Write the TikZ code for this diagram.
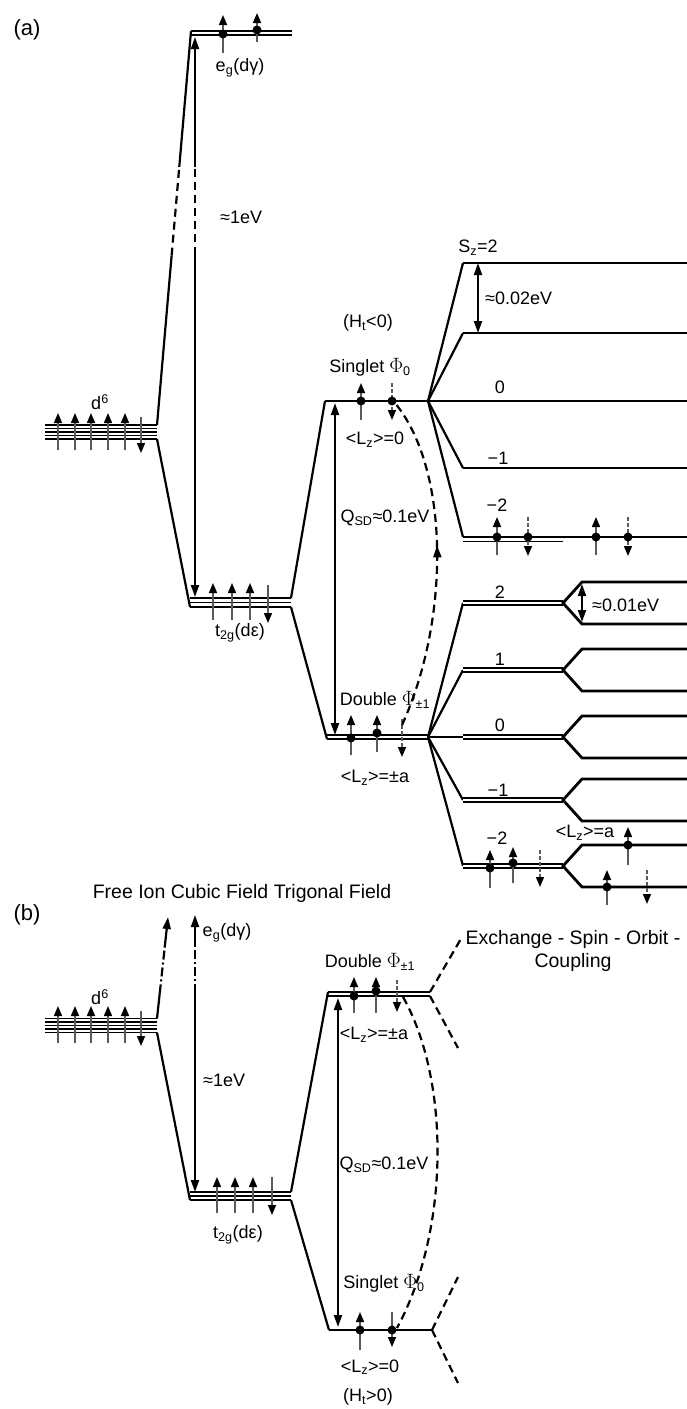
\documentclass[tikz,border=0pt]{standalone}
\usepackage{fontspec}
\setmainfont{Liberation Sans}
\usepackage{tikz}
\usetikzlibrary{arrows.meta,calc,decorations.markings}
\definecolor{gris}{HTML}{5A5A5A}
\newcommand{\Fi}{{\fontsize{20}{20}\selectfont$\Phi$}}

\begin{document}
\begin{tikzpicture}[
  x=1pt, y=-1pt,
  font=\fontsize{18}{21}\selectfont,
  >={Triangle[width=8pt,length=12pt]},
  texto/.style={inner sep=0pt},
  titulo/.style={inner sep=0pt, font=\fontsize{19.5}{23}\selectfont},
  panel/.style={inner sep=0pt, font=\fontsize{22}{24}\selectfont},
  fina/.style={line width=1.6pt},
  nivel/.style={line width=2.8pt},
  doble/.style={double, double distance=2.2pt, line width=1.6pt},
  enlace/.style={line width=2.2pt},
  salto/.style={line width=2pt},
  trazos/.style={dash pattern=on 8pt off 5pt},
  rayapunto/.style={dash pattern=on 9pt off 3pt on 2pt off 3pt},
  espin/.style={gris, line width=1.6pt, -{Triangle[width=8pt,length=10pt,color=black]}},
  espinr/.style={espin, dash pattern=on 4pt off 2pt},
  curva/.style={line width=2.2pt, trazos},
  flechacurva/.style={postaction={decorate}, decoration={markings,
    mark=at position 0.55 with {\arrow{Triangle[width=8pt,length=12pt]}}}}
]
\useasboundingbox (0,0) rectangle (687,1409);

% (a)
\node[panel] (pa) at (27,30) {(a)};

\foreach \k in {0,...,4} \draw[fina] (45,{425+3.5*\k}) -- (157,{425+3.5*\k});
\coordinate (d6a-s) at (157,425);
\coordinate (d6a-i) at (157,439);
\foreach \x in {58,75,91,108,125} \draw[espin] (\x,450) -- (\x,413);
\draw[espin] (141,417) -- (141,453);
\node[texto] (d6a) at (100,402) {d\textsuperscript{6}};

\draw[doble] (191,33) -- (292,33);
\coordinate (ega) at (191,31);
\draw[enlace] (d6a-s) -- ($(d6a-s)!0.43!(ega)$);
\draw[enlace,trazos] ($(d6a-s)!0.43!(ega)$) -- ($(d6a-s)!0.655!(ega)$);
\draw[enlace] ($(d6a-s)!0.655!(ega)$) -- (ega);
\draw[espin] (223,53) -- (223,15); \fill (223,34) circle (4.5pt);
\draw[espin] (257,42) -- (257,13); \fill (257,30) circle (4.5pt);
\node[texto] (ega-t) at (240,68) {e\textsubscript{g}(dγ)};

\foreach \k in {0,1,2} \draw[fina] (190,{598+4.5*\k}) -- (291,{598+4.5*\k});
\coordinate (t2ga-l) at (190,607);
\coordinate (t2ga-s) at (291,598);
\coordinate (t2ga-i) at (291,607);
\draw[enlace] (d6a-i) -- (t2ga-l);
\foreach \x in {213,232,250} \draw[espin] (\x,620) -- (\x,583);
\draw[espin] (268,585) -- (268,623);
\node[texto] (t2ga-t) at (240,633) {t\textsubscript{2g}(dε)};

\coordinate (gapa-b) at (195,597);
\coordinate (gapa-t) at (195,37);
\draw[salto,<-] (gapa-b) -- ($(gapa-b)!0.611!(gapa-t)$);
\draw[salto,trazos] ($(gapa-b)!0.611!(gapa-t)$) -- ($(gapa-b)!0.768!(gapa-t)$);
\draw[salto,->] ($(gapa-b)!0.768!(gapa-t)$) -- (gapa-t);
\node[texto, anchor=west] (eva) at (220,217) {≈1eV};

\coordinate (sa-l) at (325,401);
\coordinate (sa-r) at (428,401);
\draw[nivel] (sa-l) -- (687,401);
\draw[enlace] (t2ga-s) -- (sa-l);
\draw[espin] (361,420) -- (361,383); \fill (361,401) circle (4.5pt);
\draw[espinr] (392,383) -- (392,420); \fill (392,401) circle (4.5pt);
\node[texto] (hta) at (368,323) {(H\textsubscript{t}<0)};
\node[texto] (sa-t) at (370,367) {Singlet \Fi\textsubscript{0}};
\node[texto] (lza0) at (375,440) {<L\textsubscript{z}>=0};

\coordinate (da-l) at (327,739);
\coordinate (da-r) at (428,737);
\draw[doble] (327,737) -- (da-r);
\draw[enlace] (t2ga-i) -- (da-l);
\draw[espin] (351,755) -- (351,715); \fill (351,738) circle (4.5pt);
\draw[espin] (377,752) -- (377,715); \fill (377,733) circle (4.5pt);
\draw[espinr] (402,719) -- (402,757);
\node[texto] (da-t) at (385,700) {Double \Fi\textsubscript{±1}};
\node[texto] (lzaa) at (375,778) {<L\textsubscript{z}>=±a};

\draw[salto,<->] (335,403) -- (335,735);
\node[texto] (qa) at (385,518) {Q\textsubscript{SD}≈0.1eV};
\draw[curva, flechacurva] (402,725) .. controls (450,620) and (450,470) .. (395,403);

\foreach \y in {263,333,468,537} {
  \draw[enlace] (sa-r) -- (463,\y);
  \draw[nivel] (463,\y) -- (687,\y);
}
\draw[fina] (463,541.5) -- (563,541.5);
\node[texto] (sz2) at (478,248) {S\textsubscript{z}=2};
\node[texto] (sz0) at (500,387) {0};
\node[texto] (szm1) at (498,458) {−1};
\node[texto] (szm2) at (497,505) {−2};
\draw[salto,<->] (478,263) -- (478,333);
\node[texto, anchor=west] (ev2) at (485,298) {≈0.02eV};
\foreach \x in {497,596} {\draw[espin] (\x,555) -- (\x,517); \fill (\x,537) circle (4.5pt);}
\foreach \x in {528,628} {\draw[espinr] (\x,517) -- (\x,556); \fill (\x,537) circle (4.5pt);}

\foreach \y in {603,670,737,800,866} {
  \draw[enlace] (da-r) -- (463,\y);
  \draw[doble] (463,\y) -- (563,\y);
  \draw[nivel] (687,{\y-21}) -- (582,{\y-21}) -- (563,\y) -- (582,{\y+21}) -- (687,{\y+21});
}
\node[texto] (mz2) at (500,592) {2};
\node[texto] (mz1) at (500,659) {1};
\node[texto] (mz0) at (500,725) {0};
\node[texto] (mzm1) at (498,790) {−1};
\node[texto] (mzm2) at (497,838) {−2};
\draw[salto,<->] (582,584) -- (582,622);
\node[texto, anchor=west] (ev1) at (592,605) {≈0.01eV};
\draw[espin] (490,888) -- (490,850); \fill (490,868) circle (4.5pt);
\draw[espin] (513,883) -- (513,847); \fill (513,863) circle (4.5pt);
\draw[espinr] (540,850) -- (540,887);
\node[texto] (lzac) at (585,833) {<L\textsubscript{z}>=a};
\draw[espin] (628,865) -- (628,827); \fill (628,845) circle (4.5pt);
\draw[espin] (607,905) -- (607,870); \fill (607,887) circle (4.5pt);
\draw[espinr] (647,870) -- (647,904);

% (b)
\node[panel] (pb) at (27,915) {(b)};
\node[titulo] (tit) at (242,893) {Free Ion Cubic Field Trigonal Field};

\foreach \k in {0,...,4} \draw[fina] (45,{1018.5+3.5*\k}) -- (157,{1018.5+3.5*\k});
\coordinate (d6b-s) at (157,1018.5);
\coordinate (d6b-i) at (157,1032.5);
\foreach \x in {58,75,91,108,125} \draw[espin] (\x,1043) -- (\x,1006);
\draw[espin] (141,1011) -- (141,1046);
\node[texto] (d6b) at (100,997) {d\textsuperscript{6}};

\coordinate (egb) at (168,917);
\draw[enlace] (d6b-s) -- ($(d6b-s)!0.248!(egb)$);
\draw[enlace,rayapunto] ($(d6b-s)!0.248!(egb)$) -- ($(d6b-s)!0.703!(egb)$);
\draw[enlace,->] ($(d6b-s)!0.703!(egb)$) -- (egb);

\coordinate (gapb-b) at (195,1192);
\coordinate (gapb-t) at (195,915);
\draw[salto,<-] (gapb-b) -- ($(gapb-b)!0.718!(gapb-t)$);
\draw[salto,rayapunto] ($(gapb-b)!0.718!(gapb-t)$) -- ($(gapb-b)!0.884!(gapb-t)$);
\draw[salto,->] ($(gapb-b)!0.884!(gapb-t)$) -- (gapb-t);
\node[texto] (egb-t) at (227,933) {e\textsubscript{g}(dγ)};
\node[texto, anchor=west] (evb) at (203,1080) {≈1eV};

\foreach \k in {0,1,2} \draw[fina] (190,{1192+4*\k}) -- (291,{1192+4*\k});
\coordinate (t2gb-l) at (190,1200);
\coordinate (t2gb-s) at (291,1192);
\coordinate (t2gb-i) at (291,1200);
\draw[enlace] (d6b-i) -- (t2gb-l);
\foreach \x in {217,235,253} \draw[espin] (\x,1213) -- (\x,1177);
\draw[espin] (272,1177) -- (272,1215);
\node[texto] (t2gb-t) at (238,1235) {t\textsubscript{2g}(dε)};

\coordinate (db-l) at (328,992);
\coordinate (db-r) at (430,994);
\draw[doble] (328,994) -- (db-r);
\draw[enlace] (t2gb-s) -- (db-l);
\draw[espin] (354,1013) -- (354,977); \fill (354,996) circle (4.5pt);
\draw[espin] (376,1013) -- (376,977); \fill (376,991) circle (4.5pt);
\draw[espinr] (397,980) -- (397,1012);
\node[texto] (db-t) at (370,962) {Double \Fi\textsubscript{±1}};
\node[texto] (lzba) at (374,1035) {<L\textsubscript{z}>=±a};

\coordinate (sb-l) at (329,1330);
\coordinate (sb-r) at (432,1330);
\draw[nivel] (sb-l) -- (sb-r);
\draw[enlace] (t2gb-i) -- (sb-l);
\draw[espin] (360,1350) -- (360,1312); \fill (360,1330) circle (4.5pt);
\draw[espin] (392,1312) -- (392,1347); \fill (392,1330) circle (4.5pt);
\node[texto] (sb-t) at (384,1283) {Singlet \Fi\textsubscript{0}};
\node[texto] (lzb0) at (370,1367) {<L\textsubscript{z}>=0};
\node[texto] (htb) at (368,1397) {(H\textsubscript{t}>0)};

\draw[salto,<->] (338,998) -- (338,1327);
\node[texto] (qb) at (384,1165) {Q\textsubscript{SD}≈0.1eV};
\draw[curva] (403,997) .. controls (450,1080) and (450,1230) .. (397,1328);

\draw[enlace,trazos] (430,992) -- (462,937);
\draw[enlace,trazos] (430,996) -- (458,1048);
\draw[enlace,trazos] (sb-r) -- (458,1277);
\draw[enlace,trazos] (sb-r) -- (458,1383);
\node[titulo, align=center] (acop) at (573,951) {Exchange - Spin - Orbit -\\Coupling};
\end{tikzpicture}
\end{document}
